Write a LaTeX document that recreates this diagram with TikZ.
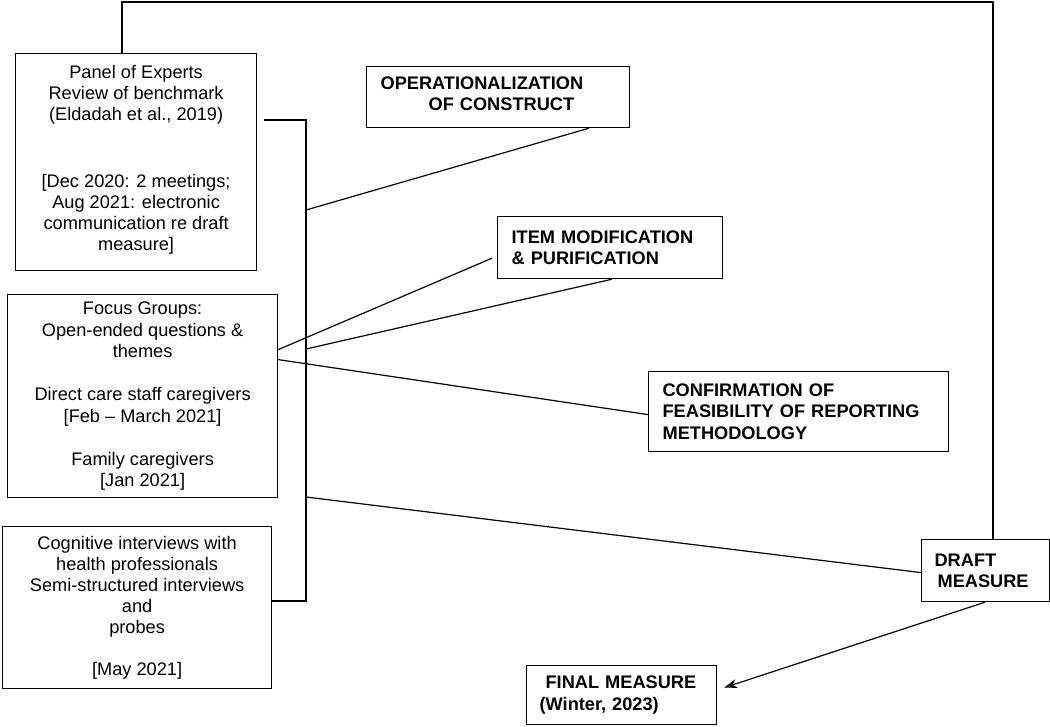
\documentclass[tikz,border=0pt]{standalone}
\usepackage{fontspec}
\setmainfont{Liberation Sans}
\usetikzlibrary{calc,arrows.meta}
\begin{document}
\begin{tikzpicture}[x=1pt,y=-1pt,
  every path/.style={line width=1.2pt},
  regbox/.style={draw, line width=1.2pt, inner sep=0pt, align=center, anchor=north west,
    font=\fontsize{18.2}{21}\selectfont},
  boldbox/.style={draw, line width=1.2pt, inner xsep=14pt, inner ysep=0pt, align=left, anchor=north west,
    font=\fontsize{18.2}{21.5}\selectfont\bfseries},
  conn/.style={line width=1.2pt}]
\useasboundingbox (0,0) rectangle (1050,726);

% left boxes
\node[regbox, minimum width=241pt, minimum height=217pt] (panel) at (15,53)
  {Panel of Experts\\Review of benchmark\\(Eldadah et al., 2019)\\[46pt]
   [Dec 2020: 2 meetings;\\Aug 2021: electronic\\communication re draft\\measure]\\[-12pt]\mbox{}};
\node[regbox, minimum width=270pt, minimum height=203pt, font=\fontsize{18.2}{21.5}\selectfont] (focus) at (7,294)
  {Focus Groups:\\Open-ended questions \&\\themes\\[21.5pt]
   Direct care staff caregivers\\[0pt][Feb -- March 2021]\\[21.5pt]
   Family caregivers\\[0pt][Jan 2021]};
\node[regbox, minimum width=269pt, minimum height=162pt] (cog) at (2,526)
  {Cognitive interviews with\\health professionals\\Semi-structured interviews\\and\\probes\\[21pt]
   [May 2021]};

% right boxes
\node[boldbox, minimum width=263pt, minimum height=61pt, text width=235pt, inner xsep=14pt] (op) at (366,66)
  {OPERATIONALIZATION\\\hspace*{48pt}OF CONSTRUCT\\[-15pt]\mbox{}};
\node[boldbox, minimum width=225pt, minimum height=62pt, text width=197pt] (item) at (497,216)
  {ITEM MODIFICATION\\\& PURIFICATION};
\node[boldbox, minimum width=300pt, minimum height=80pt, text width=272pt] (conf) at (648,371)
  {CONFIRMATION OF\\FEASIBILITY OF REPORTING\\METHODOLOGY};
\node[boldbox, minimum width=128pt, minimum height=62pt, text width=102pt, inner xsep=13pt] (draft) at (921,539)
  {DRAFT\\\hspace*{3pt}MEASURE};
\node[boldbox, minimum width=190pt, minimum height=59pt, text width=164pt, inner xsep=13pt] (final) at (526,665)
  {\hspace*{6pt}FINAL MEASURE\\(Winter, 2023)};

% bracket coordinates
\coordinate (bt) at (306,120);
\coordinate (bb) at (306,601);
\coordinate (j1) at (306,210);
\coordinate (j2) at (306,349);
\coordinate (j3) at (306,497);
\coordinate (loop) at (993,2);
\coordinate (free) at ($(item.south west)+(-5,-21)$);

% top loop from panel to draft measure
\draw[conn] ($(panel.north west)+(107,0)$) |- (loop) -- (loop |- draft.north);

% bracket
\draw[conn] ($(panel.east |- bt)+(7,0)$) -- (bt) -- (bb) -- (cog.east |- bb);

% connectors
\draw[conn] (j1) -- ($(op.south west)+(223,0)$);
\draw[conn] ($(focus.east)+(0,-46.5)$) -- (free);
\draw[conn] (j2) -- ($(item.south west)+(115,0)$);
\draw[conn] ($(focus.east)+(0,-36.5)$) -- ($(conf.west)+(0,3)$);
\draw[conn] (j3) -- ($(draft.west)+(0,2)$);
\draw[conn, -{Stealth[length=13pt,width=9pt]}] ($(draft.south west)+(64,0)$) -- ($(final.east)+(7,-7.5)$);
\end{tikzpicture}
\end{document}
